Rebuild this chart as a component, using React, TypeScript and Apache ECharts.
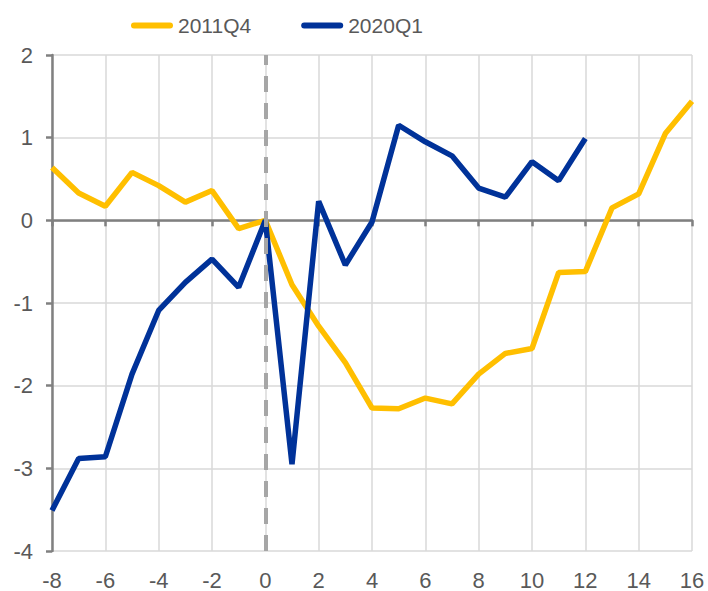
import React, { useEffect, useRef } from "react";
import * as echarts from "echarts";

const xValues = [-8, -7, -6, -5, -4, -3, -2, -1, 0, 1, 2, 3, 4, 5, 6, 7, 8, 9, 10, 11, 12, 13, 14, 15, 16];
const series2011Q4 = [0.64, 0.33, 0.17, 0.58, 0.42, 0.22, 0.36, -0.1, 0, -0.78, -1.28, -1.72, -2.27, -2.28, -2.15, -2.22, -1.86, -1.61, -1.55, -0.63, -0.62, 0.15, 0.32, 1.05, 1.44];
const series2020Q1 = [-3.51, -2.88, -2.86, -1.86, -1.09, -0.75, -0.47, -0.81, 0, -2.95, 0.23, -0.54, -0.02, 1.15, 0.95, 0.78, 0.39, 0.28, 0.71, 0.48, 0.99];
const seriesNames = ["2011Q4", "2020Q1"];
const colors = ["#FFBF00", "#003299"];

const FONT = "'Liberation Sans', Arial, sans-serif";
const LEGEND_ICON = "path://M3,0 L39,0 A3,3 0 0 1 39,6 L3,6 A3,3 0 0 1 3,0 Z";

export default function App() {
  const ref = useRef<HTMLDivElement>(null);
  useEffect(() => {
    if (!ref.current) return;
    const chart = echarts.init(ref.current, undefined, { renderer: "svg" });
    const toPairs = (vals: number[]) => vals.map((v, i) => [xValues[i], v]);
    chart.setOption({
      animation: false,
      legend: {
        top: 10,
        left: 126,
        icon: LEGEND_ICON,
        itemWidth: 42,
        itemHeight: 6,
        itemGap: 50,
        textStyle: { fontFamily: FONT, fontSize: 21, color: "#595959" },
        data: seriesNames,
      },
      grid: { left: 52, right: 16, top: 55, bottom: 38, containLabel: false },
      xAxis: [
        {
          type: "value",
          min: -8,
          max: 16,
          interval: 2,
          axisLine: { show: false, onZero: false },
          axisTick: { show: false },
          axisLabel: { fontFamily: FONT, fontSize: 22, color: "#595959", margin: 18 },
          splitLine: { show: true, lineStyle: { color: "#d9d9d9", width: 1.5 } },
        },
        {
          type: "value",
          min: -8,
          max: 16,
          interval: 2,
          position: "bottom",
          axisLine: { show: true, onZero: true, lineStyle: { color: "#808080", width: 2.5 } },
          axisTick: { show: true, inside: false, length: 6, lineStyle: { color: "#808080", width: 2.5 } },
          axisLabel: { show: false },
          splitLine: { show: false },
        },
      ],
      yAxis: {
        type: "value",
        min: -4,
        max: 2,
        interval: 1,
        axisLine: { show: true, onZero: false, lineStyle: { color: "#808080", width: 2.5 } },
        axisTick: { show: true, length: 6, lineStyle: { color: "#808080", width: 2.5 } },
        axisLabel: { fontFamily: FONT, fontSize: 22, color: "#595959", margin: 19 },
        splitLine: { show: true, lineStyle: { color: "#d9d9d9", width: 1.5 } },
      },
      series: [
        {
          name: seriesNames[0],
          type: "line",
          xAxisIndex: 0,
          data: toPairs(series2011Q4),
          symbol: "none",
          lineStyle: { color: colors[0], width: 5.5 },
          itemStyle: { color: colors[0] },
          z: 3,
          markLine: {
            silent: true,
            symbol: "none",
            label: { show: false },
            lineStyle: { color: "#a6a6a6", width: 4, type: [16, 11] },
            data: [{ xAxis: 0 }],
          },
        },
        {
          name: seriesNames[1],
          type: "line",
          xAxisIndex: 0,
          data: toPairs(series2020Q1),
          symbol: "none",
          lineStyle: { color: colors[1], width: 5.5 },
          itemStyle: { color: colors[1] },
          z: 4,
        },
      ],
    });
    return () => chart.dispose();
  }, []);
  return <div ref={ref} style={{ width: 708, height: 591, position: "absolute", left: 0, top: 0 }} />;
}
